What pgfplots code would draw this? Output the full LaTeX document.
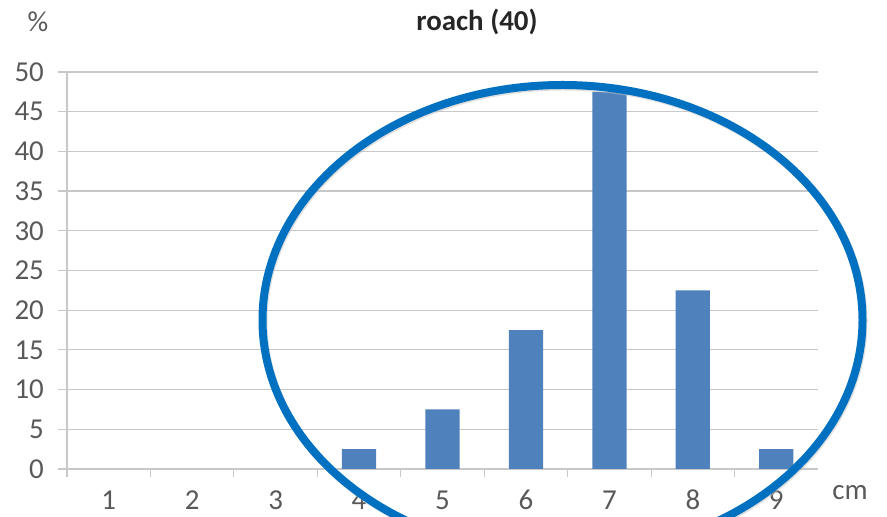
\documentclass[border=0pt]{standalone}
\usepackage{pgfplots}
\pgfplotsset{compat=1.18}
\usepackage{fontspec}
\setmainfont{Carlito}
\definecolor{txt}{RGB}{89,89,89}
\definecolor{gridc}{RGB}{200,200,200}
\definecolor{barc}{RGB}{79,129,189}
\definecolor{ell}{RGB}{0,112,192}
\begin{document}
\begin{tikzpicture}[x=1bp,y=1bp]
\path[use as bounding box] (0,0) rectangle (887,517);
\begin{axis}[
  at={(67bp,48bp)}, anchor=south west,
  scale only axis, width=751bp, height=397bp,
  xmin=0.5, xmax=9.5, ymin=0, ymax=50,
  ytick={0,5,...,50}, xtick={1,...,9},
  /pgf/number format/assume math mode=true,
  ymajorgrids, major grid style={draw=gridc, line width=1.2bp},
  axis x line*=bottom, axis y line*=left,
  axis line style={draw=gridc, line width=1.2bp, -},
  xtick style={draw=none},
  ytick style={draw=gridc, line width=1.2bp},
  ytick align=outside, major tick length=9bp,
  extra x ticks={0.5,1.5,...,8.5}, extra x tick labels={},
  extra x tick style={tick align=outside, major tick length=8bp, xtick style={draw=gridc, line width=1.2bp}, grid=none},
  tick label style={font=\fontsize{29}{33}\selectfont, text=txt},
  yticklabel style={anchor=east, inner sep=0pt, xshift=-14bp},
  xticklabel style={anchor=center, inner sep=0pt, yshift=-22bp},
  ybar, bar width=0.41, bar shift=0pt,
  clip=false,
]
% values at 1, 2, 3 are 0 %
\addplot[fill=barc, draw=none] coordinates {(4,2.5) (5,7.5) (6,17.5) (7,47.5) (8,22.5) (9,2.5)};
\end{axis}
\node[font=\bfseries\fontsize{29}{33}\selectfont, text=black!85] at (477,495) {roach (40)};
\node[font=\fontsize{29}{33}\selectfont, text=txt] at (38,495) {\%};
\node[font=\fontsize{29}{33}\selectfont, text=txt] at (850,24) {cm};
\draw[black!25, opacity=0.5, line width=8bp] (563.5,195.5) ellipse [x radius=300, y radius=235];
\draw[ell, line width=8bp] (562.5,197) ellipse [x radius=300, y radius=235];
\end{tikzpicture}
\end{document}
